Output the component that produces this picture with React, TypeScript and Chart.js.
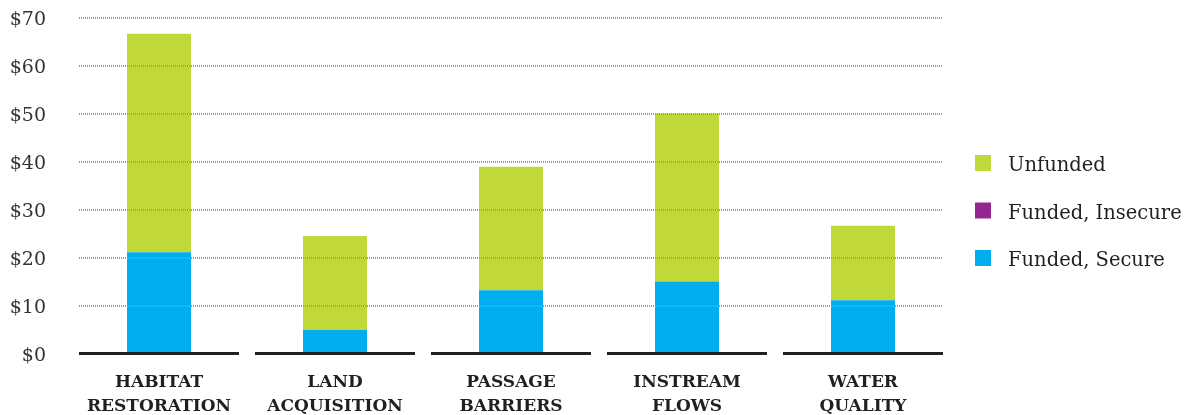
import React, { useEffect, useRef } from "react";
import { Chart, registerables } from "chart.js";

Chart.register(...registerables);

const categories: string[][] = [
  ["HABITAT", "RESTORATION"],
  ["LAND", "ACQUISITION"],
  ["PASSAGE", "BARRIERS"],
  ["INSTREAM", "FLOWS"],
  ["WATER", "QUALITY"],
];
const fundedSecure = [21.1, 4.9, 13.2, 15.0, 11.1];
const fundedInsecure = [0, 0, 0, 0, 0];
const unfunded = [45.5, 19.6, 25.7, 35.0, 15.5];
const yTicks = [0, 10, 20, 30, 40, 50, 60, 70];

const GREEN = "#c1d83a";
const PURPLE = "#92278f";
const BLUE = "#00aeef";
const TEXT = "#231f20";

const overlay = {
  id: "overlay",
  afterDatasetsDraw(chart: any) {
    const { ctx } = chart;
    const x = chart.scales.x;
    const y = chart.scales.y;
    const n = categories.length;
    const cw = x.getPixelForValue(1) - x.getPixelForValue(0);
    const half = (cw * 80) / 176;
    const left = x.getPixelForValue(0) - half;
    const right = x.getPixelForValue(n - 1) + half;
    ctx.save();
    ctx.strokeStyle = "#9a9a9a";
    ctx.lineWidth = 2;
    ctx.setLineDash([1, 1]);
    yTicks.forEach((v) => {
      if (v === 0) return;
      const py = Math.round(y.getPixelForValue(v));
      ctx.beginPath();
      ctx.moveTo(left, py);
      ctx.lineTo(right, py);
      ctx.stroke();
    });
    ctx.setLineDash([]);
    ctx.strokeStyle = TEXT;
    ctx.lineWidth = 3;
    const py0 = y.getPixelForValue(0);
    for (let i = 0; i < n; i++) {
      const cx = x.getPixelForValue(i);
      ctx.beginPath();
      ctx.moveTo(cx - half, py0);
      ctx.lineTo(cx + half, py0);
      ctx.stroke();
    }
    ctx.restore();
  },
  afterDraw(chart: any) {
    const { ctx } = chart;
    const items = [...chart.data.datasets].reverse();
    const bx = chart.chartArea.right + 24;
    ctx.save();
    ctx.font = "19.5px 'DejaVu Serif'";
    ctx.textBaseline = "alphabetic";
    items.forEach((ds: any, i: number) => {
      const cy = 163 + i * 47.5;
      ctx.fillStyle = ds.backgroundColor;
      ctx.fillRect(bx, cy - 8, 16, 16);
      ctx.fillStyle = TEXT;
      ctx.fillText(ds.label, bx + 33, cy + 8);
    });
    ctx.restore();
  },
};

export default function App() {
  const ref = useRef<HTMLCanvasElement>(null);
  useEffect(() => {
    if (!ref.current) return;
    const chart = new Chart(ref.current, {
      type: "bar",
      data: {
        labels: categories,
        datasets: [
          { label: "Funded, Secure", data: fundedSecure, backgroundColor: BLUE },
          { label: "Funded, Insecure", data: fundedInsecure, backgroundColor: PURPLE },
          { label: "Unfunded", data: unfunded, backgroundColor: GREEN },
        ],
      },
      options: {
        responsive: false,
        animation: false,
        layout: { padding: { top: 17.5, right: 243, left: 0, bottom: 0 } },
        datasets: {
          bar: { categoryPercentage: 1, barPercentage: 64 / 176, borderWidth: 0 },
        },
        plugins: { legend: { display: false }, tooltip: { enabled: false } },
        scales: {
          x: {
            stacked: true,
            grid: { display: false, drawTicks: false },
            border: { display: false },
            ticks: {
              color: TEXT,
              font: { family: "'DejaVu Serif'", size: 17, weight: "bold", lineHeight: 1.41 },
              padding: 17,
              maxRotation: 0,
              autoSkip: false,
            },
            afterFit: (s: any) => {
              s.height = 61.5;
              s.paddingLeft = 0;
              s.paddingRight = 0;
            },
          },
          y: {
            stacked: true,
            min: 0,
            max: 70,
            grid: { display: false, drawTicks: false },
            border: { display: false },
            afterBuildTicks: (s: any) => {
              s.ticks = yTicks.map((v) => ({ value: v }));
            },
            ticks: {
              color: "#333333",
              font: { family: "'DejaVu Serif'", size: 19 },
              padding: 25,
              labelOffset: 3,
              callback: (v: any) => "$" + v,
            },
            afterFit: (s: any) => {
              s.width = 71;
              s.paddingTop = 0;
              s.paddingBottom = 0;
            },
          },
        },
      },
      plugins: [overlay],
    });
    return () => chart.destroy();
  }, []);
  return (
    <div style={{ position: "fixed", left: 0, top: 0, width: 1194, height: 415, background: "#fff" }}>
      <canvas ref={ref} width={1194} height={415} style={{ display: "block" }} />
    </div>
  );
}
